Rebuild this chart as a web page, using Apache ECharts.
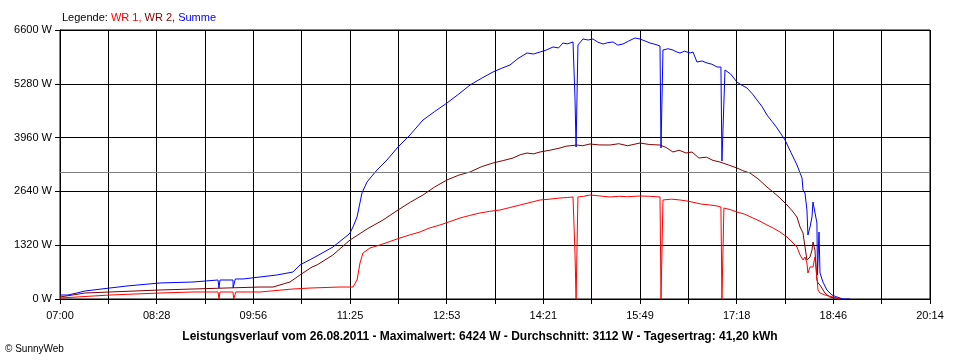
<!DOCTYPE html>
<html><head><meta charset="utf-8">
<script src="https://cdn.jsdelivr.net/npm/echarts@6/dist/echarts.min.js"></script>
<style>html,body{margin:0;padding:0;background:#fff}#c{width:960px;height:360px}</style>
</head><body><div id="c"></div>
<script>
// x = minutes after 07:00, y = watts
const xLabels = ['07:00','08:28','09:56','11:25','12:53','14:21','15:49','17:18','18:46','20:14'];
const xSpanMin = 794;
const yMax = 6600, yStep = 1320;
const avgW = 3112;

const summe = [
 [0,98],[7.3,98],[7.3,147],[15.5,147],[22.8,196],[45.6,270],[61.1,319],[91.3,393],[121.4,417],
 [144.2,466],[145.1,270],[146,466],[152.4,466],[157.9,466],[158,270],[159.7,270],[160,491],[167,491],
 [182.5,540],[198,589],[212.6,662],[219,834],[234.5,1055],[249.1,1276],[262.8,1570],[264.7,1619],
 [267.4,1767],[271.1,2012],[275.6,2601],[280.2,2871],[289.3,3165],[298.4,3410],[308.5,3729],
 [319.4,4024],[331.3,4392],[342,4600],[353.2,4809],[364,5030],[374.2,5250],[385,5420],[395.2,5570],
 [403,5660],[410.7,5741],[418,5900],[426.2,6036],[432,6010],[438.1,6060],[444,6110],[449.9,6183],
 [455,6160],[459,6281],[463,6260],[468.2,6306],[470,4932],[471,3729],[471.8,3729],[472.7,6232],
 [477.3,6379],[482,6355],[486.4,6379],[491,6300],[495.6,6256],[500,6290],[504.7,6306],[509,6230],
 [513.8,6256],[519,6330],[524.8,6404],[529.3,6379],[534,6330],[538.5,6281],[543,6250],[547.6,6207],
 [548.5,3705],[549.4,3705],[550.3,6109],[555,6140],[559.4,6109],[563,6060],[565.8,6036],[570,6080],
 [575,6036],[577.7,6060],[581.3,5815],[586,5840],[590.5,5790],[595,5760],[599.6,5692],[603.2,5692],
 [604.1,3386],[605,3386],[606.9,5619],[612,5520],[617.8,5324],[622,5250],[627,5177],[632,5030],
 [636.1,4883],[641,4711],[645.2,4514],[650,4350],[654.4,4196],[658,4050],[661.7,3901],[667,3600],
 [672.6,3288],[677.2,2969],[678.1,2674],[679.9,2601],[681.7,2184],[682.6,1570],[684.5,1767],
 [686.3,2012],[687.2,2380],[689,2355],[690.8,1865],[691.3,589],[692.7,1644],[693.6,638],[696.3,417],
 [699.9,221],[704.5,98],[709.1,49],[714.6,0],[721,0]
];

const wr2 = [
 [0,49],[22.8,147],[45.6,172],[91.3,221],[121.4,245],[152.4,270],[182.5,294],[194.4,294],
 [209.9,417],[219,589],[230,785],[234.5,834],[249.1,1080],[264.7,1448],[280.2,1717],[294.8,1938],
 [308.5,2184],[320,2380],[331.3,2552],[342,2750],[353.2,2920],[364,3040],[374.2,3116],[385,3250],
 [395.2,3337],[405,3400],[413.4,3459],[420,3540],[426.2,3582],[432,3560],[438.1,3607],[447,3650],
 [456.3,3705],[462,3750],[471.8,3778],[477,3760],[483.7,3803],[492,3780],[501.9,3778],[510,3810],
 [518,3760],[529.3,3827],[538,3790],[547.6,3778],[553,3720],[559.4,3607],[565,3650],[571.4,3582],
 [576.8,3607],[583.1,3459],[590,3480],[596,3400],[602.3,3361],[610,3290],[617.8,3214],[623,3150],
 [629.7,3091],[637,2950],[645.2,2748],[651,2620],[657.1,2478],[663.5,2306],[668,2170],[672.6,2012],
 [675.4,1767],[678.1,1619],[679,1448],[681.7,957],[684.5,1030],[686.3,1202],[687.2,1398],[689,1202],
 [690.8,466],[691.8,393],[693.6,343],[698.1,147],[702.6,49],[711.9,0]
];

const wr1 = [
 [0,25],[15.5,49],[45.6,98],[91.3,147],[121.4,172],[144.2,172],[145.1,0],[146,172],[157.9,172],
 [158.5,0],[159.7,0],[160.5,172],[182.5,172],[212.6,245],[229.1,270],[255.5,294],[267.4,294],
 [271.1,466],[273.8,883],[276.5,1129],[282.9,1251],[292,1325],[301,1410],[310.3,1497],[319,1570],
 [328.5,1644],[337,1740],[346.8,1816],[356,1900],[365.1,1987],[374,2050],[383.3,2110],[392,2150],
 [401.6,2184],[410,2240],[419.8,2306],[428,2360],[438.1,2429],[447,2450],[456.3,2478],[463,2490],
 [468.2,2503],[470,1129],[471,0],[471.8,0],[472.7,2503],[478,2520],[483.7,2552],[492,2530],
 [501.9,2503],[510,2520],[518,2510],[529.3,2527],[538,2520],[547.6,2503],[548.5,0],[549.4,0],
 [550.3,2429],[558,2450],[565.8,2429],[571,2410],[576.8,2380],[585,2330],[593.2,2306],[599.6,2282],
 [603.2,2257],[604.1,0],[605,0],[605.9,2233],[612,2190],[617.8,2135],[625,2080],[632.4,1987],
 [638,1920],[645.2,1816],[651,1740],[657.1,1644],[663.5,1521],[668,1400],[672.6,1276],[675.4,1080],
 [678.1,957],[679.9,1030],[681.7,883],[682.6,638],[684.5,785],[687.2,785],[689,1030],[690.8,540],
 [691.8,221],[693.6,147],[698.1,98],[705.4,49],[711.9,0]
];

const I = xSpanMin / 18;
const font = 'Liberation Sans, Arial, sans-serif';
const chart = echarts.init(document.getElementById('c'), null, {renderer:'canvas'});
chart.setOption({
  animation: false,
  backgroundColor: '#fff',
  grid: {left: 60, right: 30, top: 30, bottom: 61, show: true, borderColor: '#000', borderWidth: 1},
  xAxis: {
    type: 'value', min: 0, max: I * 18, interval: I,
    axisLine: {show: true, lineStyle: {color: '#000', width: 1}},
    axisTick: {show: true, length: 5, lineStyle: {color: '#000'}},
    splitLine: {show: true, lineStyle: {color: '#000', width: 1}},
    axisLabel: {
      color: '#000', fontFamily: font, fontSize: 11, margin: 11,
      formatter: function (v) {
        const i = Math.round(v / I);
        return i % 2 === 0 ? xLabels[i / 2] : '';
      }
    }
  },
  yAxis: {
    type: 'value', min: 0, max: yMax, interval: yStep,
    axisLine: {show: true, lineStyle: {color: '#000', width: 1}},
    axisTick: {show: true, length: 5, lineStyle: {color: '#000'}},
    splitLine: {show: true, lineStyle: {color: '#000', width: 1}},
    axisLabel: {color: '#000', fontFamily: font, fontSize: 11, margin: 8, formatter: v => v + ' W'}
  },
  graphic: [
    {type: 'text', left: 62, top: 12, style: {
      text: '{k|Legende: }{a|WR 1, }{b|WR 2, }{c|Summe}',
      rich: {
        k: {fill: '#000', fontFamily: font, fontSize: 11},
        a: {fill: '#ff0000', fontFamily: font, fontSize: 11},
        b: {fill: '#800000', fontFamily: font, fontSize: 11},
        c: {fill: '#0000ff', fontFamily: font, fontSize: 11}
      }}},
    {type: 'text', left: 'center', top: 331, style: {
      text: 'Leistungsverlauf vom 26.08.2011 - Maximalwert: 6424 W - Durchschnitt: 3112 W - Tagesertrag: 41,20 kWh',
      fill: '#000', fontFamily: font, fontSize: 12, fontWeight: 'bold'}},
    {type: 'text', left: 5, top: 344, style: {text: '© SunnyWeb', fill: '#000', fontFamily: font, fontSize: 10}}
  ],
  series: [
    {type: 'line', name: 'Summe', data: summe, showSymbol: false, lineStyle: {color: '#0000ff', width: 1}, itemStyle: {color: '#0000ff'},
     markLine: {silent: true, symbol: 'none', label: {show: false}, lineStyle: {color: '#808080', type: 'solid', width: 1}, data: [{yAxis: avgW}]}},
    {type: 'line', name: 'WR 2', data: wr2, showSymbol: false, lineStyle: {color: '#800000', width: 1}, itemStyle: {color: '#800000'}},
    {type: 'line', name: 'WR 1', data: wr1, showSymbol: false, lineStyle: {color: '#ff0000', width: 1}, itemStyle: {color: '#ff0000'}}
  ]
});
</script></body></html>
